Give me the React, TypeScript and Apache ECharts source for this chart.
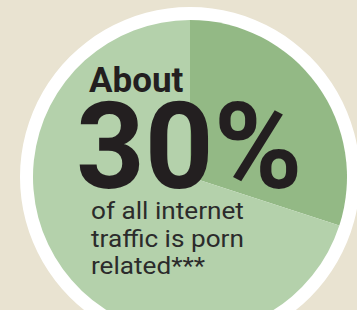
import React, { useEffect, useRef } from "react";
import * as echarts from "echarts";

const sliceNames = ["Porn related", "Other traffic"];
const sliceValues = [30, 70];
const sliceColors = ["#93b985", "#b4d1ab"];
const headline = "About";
const bigNumber = "30%";
const captionLines = ["of all internet", "traffic is porn", "related***"];

export default function App() {
  const ref = useRef<HTMLDivElement>(null);
  useEffect(() => {
    document.body.style.margin = "0";
    const chart = echarts.init(ref.current!, null, { renderer: "svg" });
    const captionBase = 219.5;
    const captionStep = 27.5;
    chart.setOption({
      animation: false,
      backgroundColor: "#e9e3d1",
      series: [
        {
          type: "pie",
          silent: true,
          center: [190, 177],
          radius: [0, 170],
          label: { show: false },
          labelLine: { show: false },
          data: [{ value: 1, name: "ring", itemStyle: { color: "#ffffff" } }],
          z: 1,
        },
        {
          type: "pie",
          silent: true,
          center: [190, 177],
          radius: [0, 157],
          startAngle: 90,
          clockwise: true,
          label: { show: false },
          labelLine: { show: false },
          itemStyle: { borderWidth: 0 },
          data: sliceValues.map((v, i) => ({
            value: v,
            name: sliceNames[i],
            itemStyle: { color: sliceColors[i] },
          })),
          z: 2,
        },
      ],
      graphic: [
        {
          type: "text",
          x: 89,
          y: 92 - 0.3415 * 35,
          z: 10,
          style: {
            text: headline,
            font: "bold 35px Roboto",
            lineHeight: 32,
            fill: "#231f20",
            verticalAlign: "middle",
          },
        },
        {
          type: "text",
          x: 76,
          y: 188 - 0.3415 * 120,
          z: 10,
          style: {
            text: bigNumber,
            font: "bold 120px Roboto",
            lineHeight: 88,
            fill: "#231f20",
            verticalAlign: "middle",
          },
        },
        ...captionLines.map((t, i) => ({
          type: "text",
          x: 91,
          y: captionBase + i * captionStep - 0.3415 * 24,
          scaleX: 1.09,
          z: 10,
          style: {
            text: t,
            font: "24px Roboto",
            lineHeight: 26,
            fill: "#2b2b2b",
            verticalAlign: "middle",
          },
        })),
      ],
    });
    return () => chart.dispose();
  }, []);
  return (
    <div
      ref={ref}
      style={{ position: "absolute", left: 0, top: 0, width: 357, height: 310 }}
    />
  );
}
